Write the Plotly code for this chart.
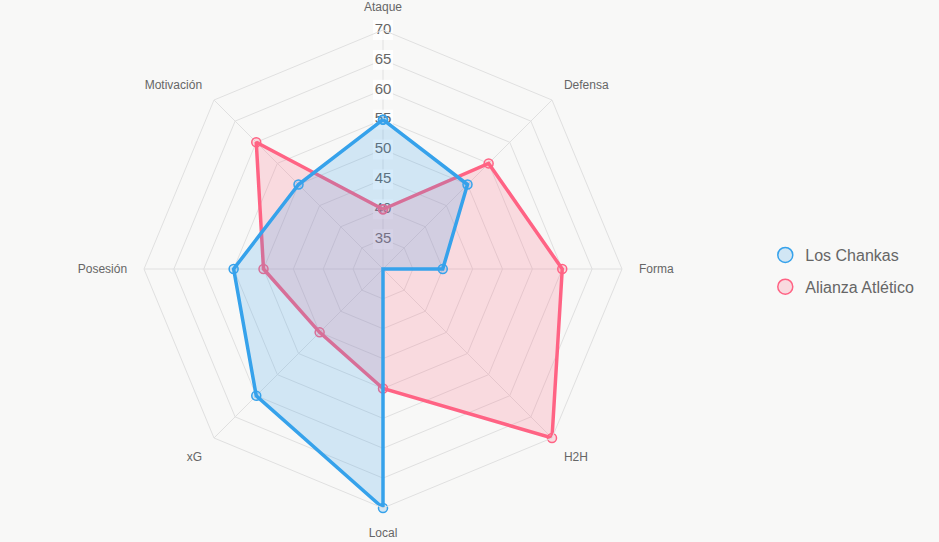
import plotly.graph_objects as go

categories = ["Ataque", "Defensa", "Forma", "H2H", "Local", "xG", "Posesión", "Motivación"]
chankas = [55, 50, 40, 30, 70, 60, 55, 50]
alianza = [40, 55, 60, 70, 50, 45, 50, 60]
tick_values = [35, 40, 45, 50, 55, 60, 65, 70]
series_names = ["Los Chankas", "Alianza Atlético"]

BLUE = "rgb(54,162,235)"
BLUE_F = "rgba(54,162,235,0.2)"
PINK = "rgb(255,99,132)"
PINK_F = "rgba(255,99,132,0.2)"
GRID = "#e0e0e0"
TXT = "#666666"
FONT = "Liberation Sans, Arial, sans-serif"

fig = go.Figure()

# radial tick labels with backdrop (drawn under data)
fig.add_trace(go.Scatterpolar(
    r=tick_values, theta=[categories[0]] * len(tick_values),
    mode="markers+text", text=[str(v) for v in tick_values],
    textposition="middle center",
    textfont=dict(size=15, color=TXT, family=FONT),
    marker=dict(symbol="square", size=20, color="rgba(255,255,255,0.8)", line=dict(width=0)),
    showlegend=False, hoverinfo="skip"))

def closed(v):
    return v + [v[0]]

th = closed(categories)

fig.add_trace(go.Scatterpolar(
    r=closed(alianza), theta=th, mode="lines+markers", fill="toself",
    fillcolor=PINK_F, line=dict(color=PINK, width=3.5),
    marker=dict(symbol="circle", size=9, color=PINK_F, line=dict(color=PINK, width=1.5)),
    name=series_names[1], showlegend=False))
fig.add_trace(go.Scatterpolar(
    r=closed(chankas), theta=th, mode="lines+markers", fill="toself",
    fillcolor=BLUE_F, line=dict(color=BLUE, width=3.5),
    marker=dict(symbol="circle", size=9, color=BLUE_F, line=dict(color=BLUE, width=1.5)),
    name=series_names[0], showlegend=False))

# legend entries
for nm, c, f, g in [(series_names[0], BLUE, BLUE_F, "a"), (series_names[1], PINK, PINK_F, "b")]:
    fig.add_trace(go.Scatterpolar(
        r=[None], theta=[categories[0]], mode="markers", name=nm, legendgroup=g,
        marker=dict(symbol="circle", size=15, color=f, line=dict(color=c, width=1.5))))

fig.update_layout(
    width=939, height=542,
    margin=dict(l=0, r=0, t=0, b=0),
    paper_bgcolor="#f8f8f7",
    plot_bgcolor="#f8f8f7",
    font=dict(family=FONT, color=TXT),
    polar=dict(
        domain=dict(x=[144 / 939, 622 / 939], y=[34 / 542, 512 / 542]),
        bgcolor="rgba(0,0,0,0)",
        gridshape="linear",
        radialaxis=dict(range=[30, 70], dtick=5, tick0=30, showticklabels=False,
                        ticks="", showline=False, gridcolor=GRID, gridwidth=1, angle=90),
        angularaxis=dict(direction="clockwise", rotation=90, categoryorder="array",
                         categoryarray=categories, gridcolor=GRID, showline=True,
                         linecolor=GRID, linewidth=1, ticks="outside", ticklen=14,
                         tickcolor="rgba(0,0,0,0)",
                         tickfont=dict(size=12, color=TXT, family=FONT)),
    ),
    legend=dict(x=0.815, y=0.5, xanchor="left", yanchor="middle",
                font=dict(size=16, color=TXT, family=FONT), tracegroupgap=8,
                bgcolor="rgba(0,0,0,0)"),
)

fig.write_html("out.html")
